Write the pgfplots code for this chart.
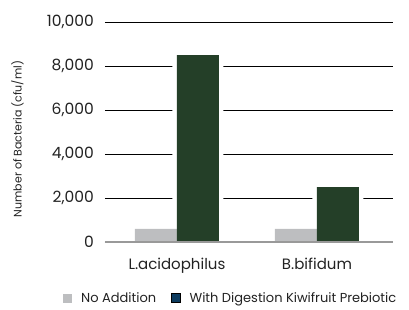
\documentclass[border=0pt]{standalone}
\usepackage{pgfplots}
\pgfplotsset{compat=1.18}
\usepackage{fontspec}
\setmainfont{Poppins}
\definecolor{barGray}{HTML}{BDBEC0}
\definecolor{barGreen}{HTML}{243F28}
\definecolor{legBlue}{HTML}{0C3B5E}
\definecolor{txt}{HTML}{222222}
\begin{document}
\begin{tikzpicture}
\begin{axis}[
  scale only axis, width=288pt, height=220pt,
  at={(0,0)}, anchor=south west,
  ymin=0, ymax=10000, ytick={0,2000,...,10000},
  xmin=-0.514, xmax=1.543,
  xtick={0,1}, xticklabels={L.acidophilus,B.bifidum},
  ybar,
  axis line style={draw=none},
  major tick length=0pt,
  ymajorgrids, major grid style={black, line width=0.7pt},
  scaled y ticks=false,
  yticklabel style={/pgf/number format/.cd, 1000 sep={,}, assume math mode=true},
  yticklabel shift=11pt,
  xticklabel shift=16pt,
  tick label style={font=\fontsize{15.5}{15.5}\selectfont, text=txt, inner sep=0pt},
  xticklabel style={anchor=north, font=\fontsize{15}{15}\selectfont},
  ylabel={Number of Bacteria (cfu/ml)},
  ylabel style={at={(axis description cs:-0.304,0.468)}, anchor=center, font=\fontsize{11}{11}\selectfont, text=txt},
  legend columns=2,
  legend style={at={(axis description cs:-0.146,-0.255)}, anchor=west, draw=none, fill=none,
    font=\fontsize{13}{13}\selectfont, text=txt, inner sep=0pt, nodes={inner sep=0pt},
    /tikz/every odd column/.append style={column sep=9pt},
    /tikz/every even column/.append style={column sep=15pt}},
  legend image code/.code={\fill[#1] (0pt,-4.5pt) rectangle (9pt,4.5pt);},
]
% white backing to cut grid lines
\addplot[fill=white, draw=none, bar width=51pt, bar shift=21pt, forget plot] coordinates {(0,8500) (1,2500)};
\addplot[fill=barGray, draw=none, bar width=42pt, bar shift=-21pt] coordinates {(0,600) (1,600)};
\addlegendentry{No Addition}
\addplot[fill=barGreen, draw=none, bar width=42pt, bar shift=21pt, forget plot] coordinates {(0,8500) (1,2500)};
\addlegendimage{fill=legBlue}
\addlegendentry{With Digestion Kiwifruit Prebiotic}
\draw[color=gray!80, line width=1.5pt] (axis cs:-0.514,0) -- (axis cs:1.543,0);
\end{axis}
\pgfresetboundingbox
\useasboundingbox (-105pt,-67pt) rectangle (304pt,242pt);
\end{tikzpicture}
\end{document}
